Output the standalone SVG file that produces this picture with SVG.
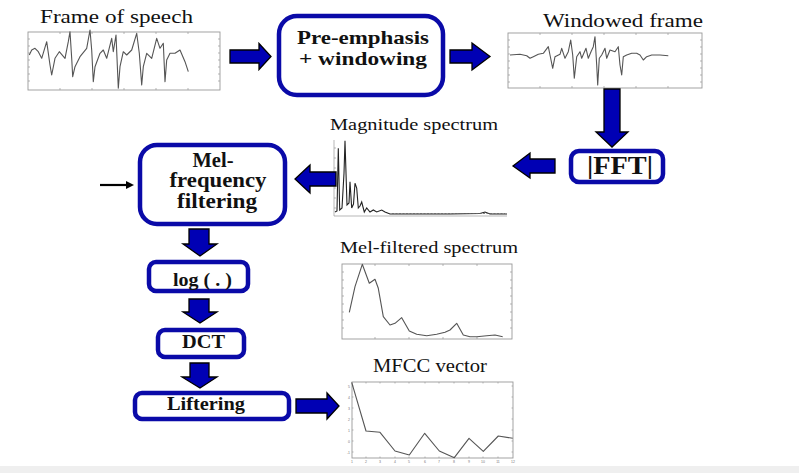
<svg xmlns="http://www.w3.org/2000/svg" width="799" height="473" viewBox="0 0 799 473">
<style>
.lbl{font-family:"Liberation Serif","Times New Roman",serif;fill:#111;}
.blbl{font-family:"Liberation Serif","Times New Roman",serif;font-weight:bold;fill:#111;}
.box{fill:#fff;stroke:#0a0aa8;stroke-width:4.5;}
.arr{fill:#0000b4;stroke:#000;stroke-width:1.3;stroke-linejoin:miter;}
.frame{fill:#fff;stroke:#999;stroke-width:0.9;}
.tick{stroke:#999;stroke-width:0.7;fill:none;}
.wave{fill:none;stroke:#555;stroke-width:1.1;stroke-linejoin:round;}
.tiny{font-family:"Liberation Sans",Arial,sans-serif;font-size:3.5px;fill:#777;}
</style>
<rect x="0" y="0" width="799" height="473" fill="#fff"/>
<rect x="0" y="466" width="799" height="7" fill="#efefef"/>

<g id="frame-of-speech">
<text class="lbl" x="40" y="23" font-size="18.5" textLength="153" lengthAdjust="spacingAndGlyphs">Frame of speech</text>
<rect class="frame" x="28" y="32" width="192" height="58"/>
<path class="tick" d="M28 39h2M28 46h2M28 53h2M28 60h2M28 67h2M28 74h2M28 81h2M220 39h-2M220 46h-2M220 53h-2M220 60h-2M220 67h-2M220 74h-2M220 81h-2M60 90v-2M92 90v-2M124 90v-2M156 90v-2M188 90v-2M60 32v2M92 32v2M124 32v2M156 32v2M188 32v2"/>
<polyline class="wave" points="29.3,55 31.7,50 35,48.3 38.3,51.7 41.7,58.3 46.7,41.7 50,65 51.7,75 55,58.3 59.3,51.7 65,58.3 68.3,41.7 70,31.7 71.7,58.3 72.7,76.7 75,66.7 80,56.7 86.7,48.3 90,30 91.7,50 93.3,81.7 95,66.7 100,53.3 103.3,50 106.7,58.3 111.7,38.3 113.3,51.7 116,35 118.3,88.3 120,66.7 123.3,51.7 126.7,55 131.7,50 136.7,33.3 139.3,53.3 141.7,85 143.3,66.7 146.7,53.3 151.7,58.3 156.7,38.3 160,48.3 163.3,43.3 165,81.7 166.7,60 170,53.3 175,53.3 180,50 185,61.7 188.3,71.7"/>
</g>

<g id="pre-emphasis">
<rect class="box" x="279" y="16" width="164" height="79" rx="18"/>
<text class="blbl" x="363" y="44" font-size="19" text-anchor="middle" textLength="132" lengthAdjust="spacingAndGlyphs">Pre-emphasis</text>
<text class="blbl" x="363" y="65" font-size="19" text-anchor="middle" textLength="128" lengthAdjust="spacingAndGlyphs">+ windowing</text>
</g>

<g id="windowed-frame">
<text class="lbl" x="543" y="27" font-size="18.5" textLength="160" lengthAdjust="spacingAndGlyphs">Windowed frame</text>
<rect class="frame" x="508" y="33" width="194" height="55"/>
<path class="tick" d="M508 40h2M508 47h2M508 54h2M508 61h2M508 68h2M508 75h2M508 82h2M702 40h-2M702 47h-2M702 54h-2M702 61h-2M702 68h-2M702 75h-2M702 82h-2M540 88v-2M572 88v-2M604 88v-2M636 88v-2M668 88v-2M540 33v2M572 33v2M604 33v2M636 33v2M668 33v2"/>
<polyline class="wave" points="510,55 520,54.3 526.7,55.7 530,58.3 533.3,56.7 538.3,54.3 543.3,53.3 548.3,46.7 550,55 552.7,68.3 555,56.7 560,54.3 561.7,48.3 565,58.3 568.3,51.7 570.7,40 572.7,55 574.3,78.3 576.7,56.7 580,51.7 581.7,58.3 586,48.3 588.3,58.3 591,51.7 593.3,46.7 595,36.7 596.7,65 597.7,85 599.3,58.3 601.7,55 605,48.3 606.7,58.3 610,50 615,51.7 618.3,46.7 620,65 621.7,75 623.3,56.7 626.7,55 631.7,53.3 636.7,53.3 640,55 643.3,60 646.7,56.7 651.7,55 660,55 668.3,55.7"/>
</g>

<g id="fft">
<rect class="box" x="571" y="151" width="92" height="31" rx="8"/>
<text class="blbl" x="620" y="174" font-size="25" text-anchor="middle" textLength="66" lengthAdjust="spacingAndGlyphs">|FFT|</text>
</g>

<g id="magnitude-spectrum">
<text class="lbl" x="330" y="130" font-size="17.5" textLength="168" lengthAdjust="spacingAndGlyphs">Magnitude spectrum</text>
<path class="tick" d="M334 140V216H507M334 148h2M334 158h2M334 168h2M334 178h2M334 188h2M334 198h2M334 208h2"/>
<polyline fill="none" stroke="#222" stroke-width="1.1" points="335,212 337,211 338.3,148.3 339.7,210 342,208 344,173.3 345,140.7 347,205 349,203 350,181.7 351.7,208 353.5,204 355,183.3 356.7,188 358.3,208 360,206 361.7,202 364.3,212 366.7,208 370,212 373.3,210 376.7,212 381.7,210 385,212 390,214 420,214 450,214 480,213.5 485,212 490,214 507,214"/>
<path fill="none" stroke="#666" stroke-width="0.8" stroke-dasharray="2,1.5" d="M392 213.5H505"/>
</g>

<g id="mel-filtering">
<rect class="box" x="140" y="145" width="145" height="79" rx="17"/>
<text class="blbl" x="213" y="167" font-size="20" text-anchor="middle" textLength="41" lengthAdjust="spacingAndGlyphs">Mel-</text>
<text class="blbl" x="218" y="187" font-size="20" text-anchor="middle" textLength="97" lengthAdjust="spacingAndGlyphs">frequency</text>
<text class="blbl" x="217" y="208" font-size="20" text-anchor="middle" textLength="80" lengthAdjust="spacingAndGlyphs">filtering</text>
</g>

<g id="log">
<rect class="box" x="149" y="262" width="99" height="29" rx="7"/>
<text class="blbl" x="202.5" y="286" font-size="18" text-anchor="middle" textLength="59" lengthAdjust="spacingAndGlyphs">log ( . )</text>
</g>

<g id="dct">
<rect class="box" x="158" y="330" width="86" height="27" rx="7"/>
<text class="blbl" x="203.5" y="348" font-size="18" text-anchor="middle" textLength="43" lengthAdjust="spacingAndGlyphs">DCT</text>
</g>

<g id="liftering">
<rect class="box" x="135" y="393" width="154" height="26" rx="7"/>
<text class="blbl" x="206" y="410" font-size="18" text-anchor="middle" textLength="78" lengthAdjust="spacingAndGlyphs">Liftering</text>
</g>

<g id="mel-filtered-spectrum">
<text class="lbl" x="340" y="253" font-size="17.5" textLength="178" lengthAdjust="spacingAndGlyphs">Mel-filtered spectrum</text>
<rect class="frame" x="342" y="264" width="170" height="75"/>
<path class="tick" d="M342 272h2M342 280h2M342 288h2M342 296h2M342 304h2M342 312h2M342 320h2M342 328h2M512 272h-2M512 280h-2M512 288h-2M512 296h-2M512 304h-2M512 312h-2M512 320h-2M512 328h-2M375 264v2M409 264v2M443 264v2M477 264v2M375 339v-2M409 339v-2M443 339v-2M477 339v-2"/>
<polyline class="wave" stroke="#777" points="349.3,312.3 355,286.7 362.3,264.3 369.3,283.3 375,279.3 378.3,288.3 383.3,316.7 390,325 395,323.3 401.7,317.7 409.3,331 416.7,334.3 426.7,335.7 436.7,334.3 445,332.3 450,330 456.7,323.3 463.3,335 470,336.7 476.7,336.7 486.7,335.7 495,335 502.7,336.7"/>
</g>

<g id="mfcc-vector">
<text class="lbl" x="373" y="372" font-size="18" textLength="114" lengthAdjust="spacingAndGlyphs">MFCC vector</text>
<rect class="frame" x="352" y="382" width="161" height="76"/>
<path class="tick" d="M366 382v1.5M380 382v1.5M395 382v1.5M409 382v1.5M425 382v1.5M439 382v1.5M454 382v1.5M469 382v1.5M483 382v1.5M498 382v1.5M366 458v-1.5M380 458v-1.5M395 458v-1.5M409 458v-1.5M425 458v-1.5M439 458v-1.5M454 458v-1.5M469 458v-1.5M483 458v-1.5M498 458v-1.5M352 386h1.5M352 397h1.5M352 408h1.5M352 419h1.5M352 430h1.5M352 441h1.5M352 452h1.5M513 386h-1.5M513 397h-1.5M513 408h-1.5M513 419h-1.5M513 430h-1.5M513 441h-1.5M513 452h-1.5"/>
<polyline class="wave" stroke="#777" points="351.7,382.3 366,431 380,432.3 395,451 409.3,455 424.7,433.3 439.3,451 454.3,457.7 469,438.3 483.3,451.3 498.3,436 512.7,438.3"/>
<g class="tiny" text-anchor="middle">
<text x="352" y="463">1</text><text x="366" y="463">2</text><text x="380" y="463">3</text><text x="395" y="463">4</text><text x="409" y="463">5</text><text x="425" y="463">6</text><text x="439" y="463">7</text><text x="454" y="463">8</text><text x="469" y="463">9</text><text x="483" y="463">10</text><text x="498" y="463">11</text><text x="513" y="463">12</text>
</g>
<g class="tiny" text-anchor="end">
<text x="350" y="388">5</text><text x="350" y="399">4</text><text x="350" y="410">3</text><text x="350" y="421">2</text><text x="350" y="432">1</text><text x="350" y="443">0</text><text x="350" y="454">-1</text>
</g>
</g>

<g id="connectors">
<path class="arr" d="M230 50H259V43.5L271 56.5L259 69.5V63H230Z"/>
<path class="arr" d="M450 50H472V43L490 56.5L472 70V63H450Z"/>
<path class="arr" d="M604 89H620V132H628L612 147L596 132H604Z"/>
<path class="arr" d="M555 159H530V153L513 166L530 178V173H555Z"/>
<path class="arr" d="M336 172H310V165L295 179L310 193V186H336Z"/>
<path class="arr" d="M189 229H209V244H217L200 256L183 244H189Z"/>
<path class="arr" d="M189 299H209V312H217L200 323L183 312H189Z"/>
<path class="arr" d="M190 363H209V377H217L200 388L182 377H190Z"/>
<path class="arr" d="M296 399H327V393L339 406L327 419V413H296Z"/>
<path d="M100 185H127" stroke="#000" stroke-width="2.2"/>
<path d="M126 181L134 185L126 189Z" fill="#000"/>
</g>
</svg>
